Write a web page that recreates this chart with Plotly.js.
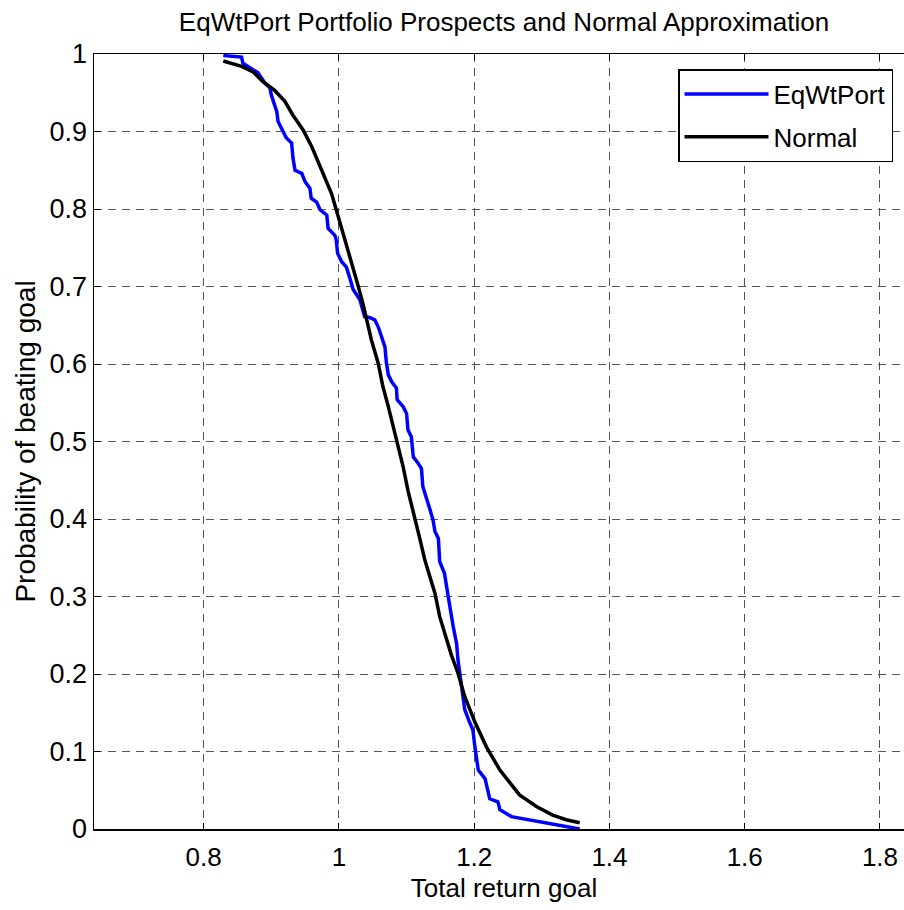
<!DOCTYPE html>
<html><head><meta charset="utf-8">
<script src="https://cdn.plot.ly/plotly-3.0.1.min.js"></script>
<style>html,body{margin:0;padding:0;overflow:hidden;background:#fff;}</style>
</head><body><div id="chart"></div>
<script>
const eqX = [0.829,0.856,0.858,0.880,0.891,0.898,0.900,0.908,0.910,0.917,0.922,0.930,0.932,0.935,0.945,0.950,0.957,0.959,0.967,0.972,0.982,0.984,0.994,0.996,0.998,1.004,1.011,1.016,1.021,1.031,1.038,1.045,1.053,1.058,1.063,1.068,1.070,1.073,1.078,1.085,1.086,1.095,1.100,1.102,1.107,1.110,1.117,1.122,1.124,1.129,1.134,1.139,1.142,1.147,1.149,1.156,1.159,1.164,1.169,1.174,1.176,1.181,1.186,1.193,1.198,1.201,1.206,1.216,1.218,1.223,1.235,1.238,1.255,1.282,1.316,1.356];
const eqY = [0.998,0.996,0.988,0.976,0.962,0.956,0.947,0.926,0.913,0.902,0.892,0.885,0.866,0.850,0.846,0.835,0.827,0.814,0.809,0.799,0.792,0.775,0.766,0.760,0.743,0.732,0.725,0.711,0.696,0.683,0.661,0.660,0.657,0.648,0.633,0.622,0.603,0.586,0.577,0.569,0.554,0.545,0.536,0.515,0.506,0.480,0.472,0.465,0.442,0.426,0.414,0.399,0.384,0.375,0.345,0.330,0.312,0.287,0.261,0.239,0.218,0.188,0.154,0.138,0.128,0.106,0.076,0.065,0.057,0.039,0.035,0.025,0.016,0.012,0.007,0.0];
const normX = [0.829,0.856,0.873,0.888,0.905,0.920,0.932,0.947,0.960,0.969,0.979,0.989,0.999,1.009,1.019,1.028,1.036,1.041,1.048,1.058,1.065,1.073,1.080,1.088,1.095,1.102,1.112,1.120,1.127,1.134,1.142,1.149,1.159,1.166,1.176,1.186,1.201,1.218,1.238,1.267,1.292,1.316,1.336,1.356];
const normY = [0.991,0.984,0.977,0.964,0.953,0.939,0.921,0.902,0.880,0.861,0.842,0.820,0.790,0.760,0.732,0.702,0.676,0.657,0.631,0.601,0.571,0.545,0.519,0.494,0.467,0.437,0.403,0.373,0.347,0.326,0.304,0.274,0.244,0.225,0.201,0.171,0.138,0.106,0.076,0.044,0.029,0.018,0.012,0.008];
const xTicks = [0.8,1,1.2,1.4,1.6,1.8];
const xTickText = ['0.8','1','1.2','1.4','1.6','1.8'];
const yTicks = [0,0.1,0.2,0.3,0.4,0.5,0.6,0.7,0.8,0.9,1];
const yTickText = ['0','0.1','0.2','0.3','0.4','0.5','0.6','0.7','0.8','0.9','1'];

const F = 'Liberation Sans, Arial, sans-serif';
const traces = [
  {x: eqX, y: eqY, mode: 'lines', name: 'EqWtPort', legendgroup: 'a', line: {color: '#0000ff', width: 3.5}},
  {x: normX, y: normY, mode: 'lines', name: 'Normal', legendgroup: 'b', line: {color: '#000000', width: 3.5}}
];
const axisCommon = {
  showline: true, linecolor: '#000', linewidth: 1.5, mirror: 'ticks',
  ticks: 'inside', ticklen: 6, tickcolor: '#000', tickwidth: 1,
  showgrid: true, gridcolor: '#555', gridwidth: 1, griddash: '8px,6px',
  zeroline: false
};
const layout = {
  width: 914, height: 910,
  margin: {l: 94, r: 0, t: 54, b: 81},
  paper_bgcolor: '#fff', plot_bgcolor: '#fff',
  title: {text: 'EqWtPort Portfolio Prospects and Normal Approximation', font: {family: F, size: 26, color: '#000'},
          x: 504/914, xref: 'container', xanchor: 'center', y: 1 - 22/910, yref: 'container', yanchor: 'middle'},
  xaxis: Object.assign({}, axisCommon, {range: [0.6378, 1.8503], tickvals: xTicks, ticktext: xTickText,
          tickfont: {family: F, size: 26, color: '#000'}, ticklabelstandoff: 4,
          title: {text: 'Total return goal', font: {family: F, size: 26, color: '#000'}, standoff: 8}}),
  yaxis: Object.assign({}, axisCommon, {range: [0, 1], tickvals: yTicks, ticktext: yTickText,
          tickfont: {family: F, size: 27, color: '#000'}, ticklabelstandoff: 0,
          title: {text: 'Probability of beating goal', font: {family: F, size: 28, color: '#000'}, standoff: 6}}),
  legend: {x: (678-94)/820, y: (829-69)/775, xanchor: 'left', yanchor: 'top', bgcolor: '#fff',
           bordercolor: '#000', borderwidth: 1.5, font: {family: F, size: 26, color: '#000'}, itemwidth: 84,
           traceorder: 'grouped', tracegroupgap: 6},
  showlegend: true
};
Plotly.newPlot('chart', traces, layout, {displayModeBar: false, staticPlot: true});
</script></body></html>
